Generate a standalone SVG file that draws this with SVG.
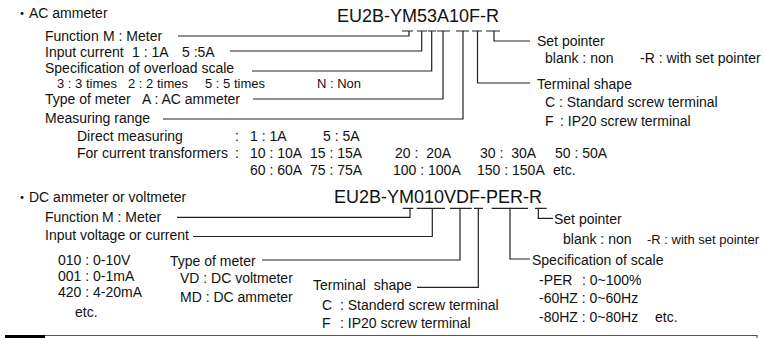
<svg xmlns="http://www.w3.org/2000/svg" width="764" height="338" viewBox="0 0 764 338">
<style>
text{font-family:"Liberation Sans","Noto Sans CJK JP",Arial,sans-serif;font-size:14px;fill:#111;white-space:pre}
.code{font-size:18px}
.sm{font-size:13px}
.ln{fill:none;stroke:#222;stroke-width:1.2}
</style>
<rect width="764" height="338" fill="#fff"/>
<g id="ac-title"><text x="15" y="17.5">・AC ammeter</text></g>
<g id="ac-code"><text class="code" x="337" y="21.7">EU2B-YM53A10F-R</text></g>
<g id="ac-function"><text x="45" y="40.5">Function</text><text x="103" y="40.5">M : Meter</text></g>
<g id="ac-input"><text x="45" y="57">Input current</text><text x="132" y="57">1 : 1A</text><text x="182" y="57">5 :5A</text></g>
<g id="ac-overload"><text x="45" y="73">Specification of overload scale</text>
<text class="sm" x="57" y="88.2">3 : 3 times</text><text class="sm" x="128" y="88.2">2 : 2 times</text><text class="sm" x="205" y="88.2">5 : 5 times</text><text class="sm" x="317" y="88.2">N : Non</text></g>
<g id="ac-type"><text x="45" y="103.7">Type of meter</text><text x="142" y="103.7">A : AC ammeter</text></g>
<g id="ac-range"><text x="45" y="123">Measuring range</text>
<text x="77" y="141">Direct measuring</text><text x="235" y="141">:</text><text x="250" y="141">1 : 1A</text><text x="323" y="141">5 : 5A</text>
<text x="77" y="158">For current transformers</text><text x="235" y="158">:</text><text x="250" y="158">10 : 10A</text><text x="310" y="158">15 : 15A</text><text x="395" y="158">20 :  20A</text><text x="480" y="158">30 :  30A</text><text x="555" y="158">50 : 50A</text>
<text x="250" y="175">60 : 60A</text><text x="310" y="175">75 : 75A</text><text x="393" y="175">100 : 100A</text><text x="477" y="175">150 : 150A</text><text x="553" y="175">etc.</text></g>
<g id="ac-setpointer"><text x="537" y="46">Set pointer</text><text x="545" y="63">blank : non</text><text x="640" y="63">-R : with set pointer</text></g>
<g id="ac-terminal"><text x="537" y="89">Terminal shape</text><text x="545" y="107">C</text><text x="559" y="107">: Standard screw terminal</text><text x="545" y="126">F</text><text x="560" y="126">: IP20 screw terminal</text></g>

<g id="dc-title"><text x="15" y="202">・DC ammeter or voltmeter</text></g>
<g id="dc-code"><text class="code" x="334" y="203">EU2B-YM010VDF-PER-R</text></g>
<g id="dc-function"><text x="45" y="221.7">Function</text><text x="102" y="221.7">M : Meter</text></g>
<g id="dc-input"><text x="45" y="239.5">Input voltage or current</text>
<text x="58" y="265">010 : 0-10V</text><text x="58" y="280.5">001 : 0-1mA</text><text x="58" y="297">420 : 4-20mA</text><text x="75" y="316.5">etc.</text></g>
<g id="dc-type"><text x="170" y="266">Type of meter</text><text x="180" y="283">VD : DC voltmeter</text><text x="180" y="301.5">MD : DC ammeter</text></g>
<g id="dc-terminal"><text x="313" y="290">Terminal  shape</text><text x="322" y="310">C</text><text x="340" y="310">: Standerd screw terminal</text><text x="322" y="328">F</text><text x="340" y="328">: IP20 screw terminal</text></g>
<g id="dc-setpointer"><text x="554" y="223.5">Set pointer</text><text x="563" y="243.5">blank : non</text><text class="sm" x="647" y="243.5">-R : with set pointer</text></g>
<g id="dc-scale"><text x="532" y="265">Specification of scale</text><text x="539" y="285">-PER</text><text x="582" y="285">: 0~100%</text><text x="539" y="303">-60HZ : 0~60Hz</text><text x="539" y="321.7">-80HZ : 0~80Hz</text><text x="655" y="321.7">etc.</text></g>

<g id="connectors" class="ln">
<path d="M402 31H413M417 31H427M428 31H436M437 31H450M456 31H469M472 31H482M486 31H500"/>
<path d="M178 36H409V31"/>
<path d="M230 51H421.7V31"/>
<path d="M252 71H431.7V31"/>
<path d="M253 99H443V31"/>
<path d="M163 119H463V31"/>
<path d="M530 83H477.5V31"/>
<path d="M530 41H494V31"/>
<path d="M402.7 208.3H413.3M416.7 208.3H445M450 208.3H471.7M474 208.3H483M491.7 208.3H528M535 208.3H546.7"/>
<path d="M177 217.3H410V208.3"/>
<path d="M193 236.5H432.3V208.3"/>
<path d="M262 260H460V208.3"/>
<path d="M417 287.3H478.3V208.3"/>
<path d="M530 259H510V208.3"/>
<path d="M553 218.3H538.3V208.3"/>
</g>
<g id="footer">
<path d="M45 335.5H757V338" fill="none" stroke="#555" stroke-width="1.2"/>
<path d="M5 336.5H45" stroke="#000" stroke-width="3"/>
</g>
</svg>
